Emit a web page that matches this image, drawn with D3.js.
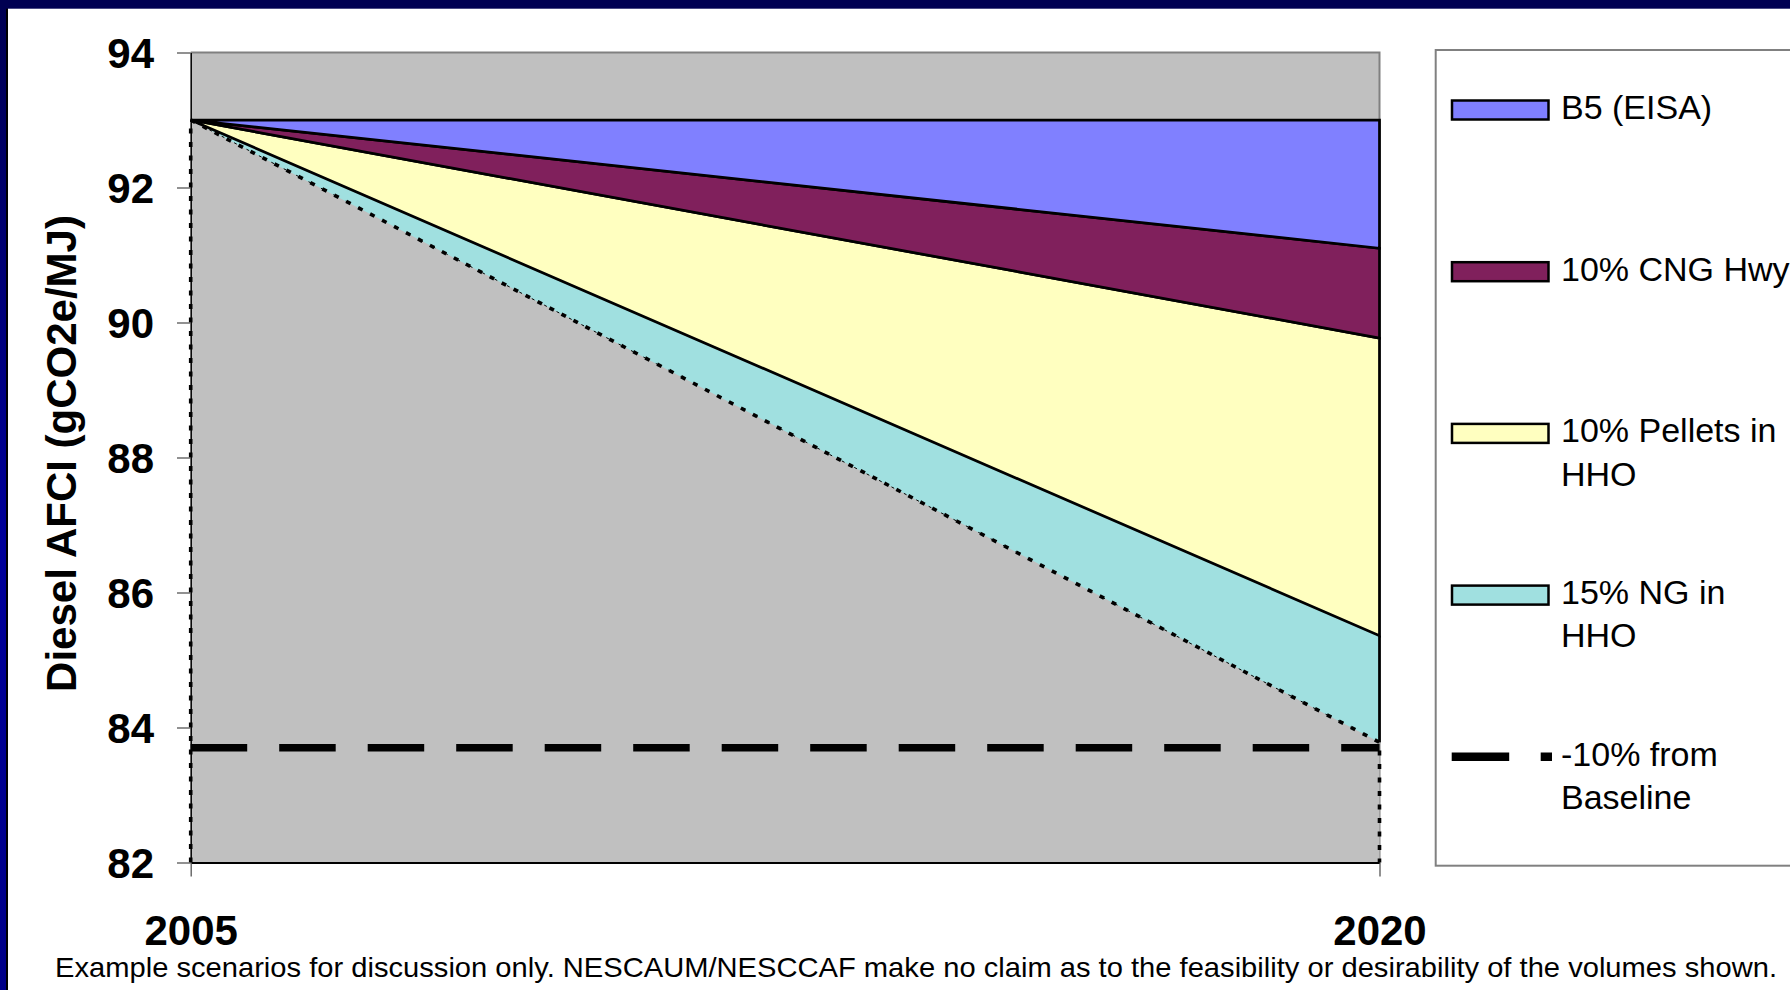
<!DOCTYPE html>
<html>
<head>
<meta charset="utf-8">
<script src="https://cdn.jsdelivr.net/npm/d3@7"></script>
<style>
  html, body { margin: 0; padding: 0; background: #ffffff; }
  svg { display: block; }
  text { font-family: "Liberation Sans", Arial, sans-serif; }
</style>
</head>
<body>
<svg id="chart" width="1790" height="990"></svg>
<script>
// ---- data ----
const years = [2005, 2020];
const yearLabels = ["2005", "2020"];
// carbon intensity left after all measures (gCO2e/MJ)
const remainingCI = [93.0, 83.78];
// reductions contributed by each measure
const ngInHHO = [0, 1.58];
const pelletsInHHO = [0, 4.41];
const cngHwy = [0, 1.33];
const b5EISA = [0, 1.90];
// -10% from the 93 baseline
const targetCI = [83.7, 83.7];
const yTicks = [82, 84, 86, 88, 90, 92, 94];
const yDomain = [82, 94];
const seriesKeys = ["base", "ng", "pellets", "cng", "b5"];
const legendLabels = [
  ["B5 (EISA)"],
  ["10% CNG Hwy"],
  ["10% Pellets in", "HHO"],
  ["15% NG in", "HHO"],
  ["-10% from", "Baseline"]
];
const yTitle = "Diesel AFCI (gCO2e/MJ)";
const footnote = "Example scenarios for discussion only. NESCAUM/NESCCAF make no claim as to the feasibility or desirability of the volumes shown.";

// ---- styles ----
const fills = { base: "#c0c0c0", ng: "#a0e0e0", pellets: "#ffffc0", cng: "#80205c", b5: "#8080ff" };
const legendKeys = ["b5", "cng", "pellets", "ng"];

const svg = d3.select("#chart");

// slide frame
const defs = svg.append("defs");
const grad = defs.append("linearGradient").attr("id", "sideGrad")
  .attr("x1", 0).attr("y1", 0).attr("x2", 0).attr("y2", 1);
grad.append("stop").attr("offset", "0%").attr("stop-color", "#000052");
grad.append("stop").attr("offset", "55%").attr("stop-color", "#00009a");
grad.append("stop").attr("offset", "100%").attr("stop-color", "#000088");
svg.append("rect").attr("x", 0).attr("y", 0).attr("width", 1790).attr("height", 990).attr("fill", "#ffffff");
svg.append("rect").attr("x", 0).attr("y", 0).attr("width", 8).attr("height", 990).attr("fill", "#000000");
svg.append("rect").attr("x", 0).attr("y", 0).attr("width", 6).attr("height", 990).attr("fill", "url(#sideGrad)");
svg.append("rect").attr("x", 0).attr("y", 0).attr("width", 1790).attr("height", 8.7).attr("fill", "#000052");

// ---- scales ----
const plot = { left: 190.7, right: 1379.5, top: 52.5, bottom: 862.5 };
const x = d3.scaleLinear().domain(d3.extent(years)).range([plot.left, plot.right]);
const y = d3.scaleLinear().domain(yDomain).range([plot.bottom, plot.top]).clamp(true);

// plot area background
svg.append("rect")
  .attr("x", plot.left).attr("y", plot.top)
  .attr("width", plot.right - plot.left).attr("height", plot.bottom - plot.top)
  .attr("fill", "#c0c0c0");
svg.append("path")
  .attr("d", `M${plot.left},${plot.top}H${plot.right}V${plot.bottom}`)
  .attr("fill", "none").attr("stroke", "#808080").attr("stroke-width", 2);

// ---- stacked areas ----
const rows = years.map((yr, i) => ({
  year: yr, base: remainingCI[i], ng: ngInHHO[i], pellets: pelletsInHHO[i], cng: cngHwy[i], b5: b5EISA[i]
}));
const stacked = d3.stack().keys(seriesKeys)(rows);
const area = d3.area()
  .x(d => x(d.data.year))
  .y0(d => y(d[0]))
  .y1(d => y(d[1]));
const topLine = d3.line().x(d => x(d.data.year)).y(d => y(d[1]));

const gAreas = svg.append("g");
stacked.forEach(s => {
  const solid = s.key === "pellets" || s.key === "cng" || s.key === "b5";
  gAreas.append("path")
    .datum(s)
    .attr("d", area)
    .attr("fill", fills[s.key])
    .attr("stroke", solid ? "#000000" : "none")
    .attr("stroke-width", 2.75)
    .attr("stroke-linejoin", "miter");
});

// right edge of the NG band
const ngS = stacked.find(s => s.key === "ng");
const lastNg = ngS[ngS.length - 1];
gAreas.append("line")
  .attr("x1", x(lastNg.data.year)).attr("x2", x(lastNg.data.year))
  .attr("y1", y(lastNg[0])).attr("y2", y(lastNg[1]))
  .attr("stroke", "#000").attr("stroke-width", 2.75);

// thin dashed edge under the NG band
gAreas.append("path")
  .datum(stacked.find(s => s.key === "base"))
  .attr("d", topLine)
  .attr("fill", "none").attr("stroke", "#000").attr("stroke-width", 1)
  .attr("stroke-dasharray", "3,11").attr("stroke-dashoffset", -7);

// dotted outline of the remaining-CI area
const baseS = stacked.find(s => s.key === "base");
const b0 = baseS[0], b1 = baseS[baseS.length - 1];
gAreas.append("path")
  .attr("d", `M${x(b0.data.year)},${y(yDomain[0])}V${y(b0[1])}L${x(b1.data.year)},${y(b1[1])}V${y(yDomain[0])}`)
  .attr("fill", "none").attr("stroke", "#000").attr("stroke-width", 3.6)
  .attr("stroke-dasharray", "5,8.5");

// ---- axes ----
const yAxis = d3.axisLeft(y).tickValues(yTicks).tickSize(13.7).tickSizeOuter(0).tickPadding(23)
  .tickFormat(d3.format("d"));
const gy = svg.append("g").attr("transform", `translate(${plot.left},0)`).call(yAxis);
gy.select(".domain").attr("stroke", "#000").attr("stroke-width", 1.5);
gy.selectAll(".tick line").attr("stroke", "#555").attr("stroke-width", 1.3);
gy.selectAll(".tick text")
  .attr("dy", "0.36em")
  .attr("fill", "#000")
  .style("font-family", "'Liberation Sans', Arial, sans-serif")
  .style("font-size", "42px").style("font-weight", "bold");

const xAxis = d3.axisBottom(x).tickValues(years).tickSize(14).tickSizeOuter(0).tickPadding(38.7)
  .tickFormat((d, i) => yearLabels[i]);
const gx = svg.append("g").attr("transform", `translate(0,${plot.bottom})`).call(xAxis);
gx.select(".domain").attr("stroke", "#000").attr("stroke-width", 2.2);
gx.selectAll(".tick line").attr("stroke", "#555").attr("stroke-width", 1.3);
gx.selectAll(".tick text")
  .attr("fill", "#000")
  .style("font-family", "'Liberation Sans', Arial, sans-serif")
  .style("font-size", "42px").style("font-weight", "bold");

// -10% target line
svg.append("path")
  .datum(years.map((yr, i) => ({ year: yr, v: targetCI[i] })))
  .attr("d", d3.line().x(d => x(d.year)).y(d => y(d.v)))
  .attr("fill", "none").attr("stroke", "#000").attr("stroke-width", 7.5)
  .attr("stroke-dasharray", "56.5,32");

// y title
svg.append("text")
  .attr("transform", `translate(76,453.5) rotate(-90)`)
  .attr("text-anchor", "middle")
  .style("font-size", "42px").style("font-weight", "bold")
  .text(yTitle);

// footnote
svg.append("text")
  .attr("x", 55).attr("y", 977)
  .attr("textLength", 1722).attr("lengthAdjust", "spacingAndGlyphs")
  .style("font-size", "28px")
  .text(footnote);

// ---- legend ----
const lg = svg.append("g");
lg.append("rect")
  .attr("x", 1435.7).attr("y", 50).attr("width", 400).attr("height", 865.7 - 50)
  .attr("fill", "#ffffff").attr("stroke", "#808080").attr("stroke-width", 2);
const rowY = i => 110 + i * 161.7;
legendLabels.forEach((lines, i) => {
  const cy = rowY(i);
  if (i < legendKeys.length) {
    lg.append("rect")
      .attr("x", 1452).attr("y", cy - 9.5).attr("width", 96.5).attr("height", 19)
      .attr("fill", fills[legendKeys[i]]).attr("stroke", "#000").attr("stroke-width", 2.5);
  } else {
    lg.append("line")
      .attr("x1", 1451.7).attr("x2", 1552).attr("y1", cy).attr("y2", cy)
      .attr("stroke", "#000").attr("stroke-width", 8.5)
      .attr("stroke-dasharray", "57.5,31.5");
  }
  const t = lg.append("text").attr("x", 1561).attr("y", cy + 9).style("font-size", "34px");
  lines.forEach((ln, j) => {
    t.append("tspan").attr("x", 1561).attr("dy", j === 0 ? 0 : 43.3).text(ln);
  });
});
</script>
</body>
</html>
